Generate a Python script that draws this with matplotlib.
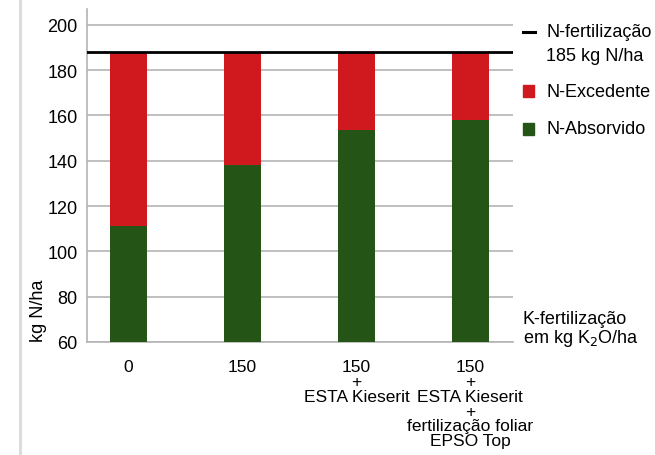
import matplotlib.pyplot as plt
from matplotlib.lines import Line2D

plt.rcParams['font.family'] = ['Liberation Sans', 'DejaVu Sans']

# datos
categorias = ["0", "150", "150\n+\nESTA Kieserit",
              "150\n+\nESTA Kieserit\n+\nfertilização foliar\nEPSO Top"]
n_absorvido = [111, 138, 153.5, 158]
n_fertilizacao = 188
n_excedente = [n_fertilizacao - a for a in n_absorvido]

verde = "#245516"
rojo = "#D0191E"
gris = "#b4b4b4"
fs = 13

fig = plt.figure(figsize=(6.55, 4.56), dpi=100)
ax = fig.add_axes([0.133, 0.248, 0.650, 0.730])

# linea gris del borde de página
fig.add_artist(Line2D([0.031, 0.031], [0, 1], color="#dcdcdc", lw=2.2))

x = list(range(len(categorias)))
ax.bar(x, n_absorvido, width=0.325, color=verde, bottom=0, zorder=3)
ax.bar(x, n_excedente, width=0.325, color=rojo, bottom=n_absorvido, zorder=3)
ax.axhline(n_fertilizacao, color="black", lw=2, zorder=4)

ax.set_ylim(60, 207)
ax.set_xlim(-0.364, 3.373)
ax.set_yticks(range(60, 201, 20))
ax.yaxis.grid(True, color=gris, lw=1.2, zorder=0)
ax.tick_params(axis="both", length=0, labelsize=fs)
ax.tick_params(axis="x", pad=12.5, labelsize=12.5)
ax.tick_params(axis="y", pad=7)
ax.set_xticks(x)
ax.set_xticklabels(categorias, linespacing=0.98)
for s in ["top", "right"]:
    ax.spines[s].set_visible(False)
for s in ["left", "bottom"]:
    ax.spines[s].set_color(gris)
    ax.spines[s].set_linewidth(1.2)
ax.set_ylabel("kg N/ha", fontsize=fs)
ax.yaxis.set_label_coords(-0.095, 0.095)

# leyenda a mano
fig.add_artist(Line2D([0.798, 0.817], [0.928, 0.928], color="black", lw=2.2))
fig.text(0.834, 0.928, "N-fertilização", fontsize=fs, va="center")
fig.text(0.834, 0.877, "185 kg N/ha", fontsize=fs, va="center")
fig.patches.append(plt.Rectangle((0.798, 0.785), 0.018, 0.026, color=rojo,
                                 transform=fig.transFigure, figure=fig))
fig.text(0.834, 0.798, "N-Excedente", fontsize=fs, va="center")
fig.patches.append(plt.Rectangle((0.798, 0.702), 0.018, 0.026, color=verde,
                                 transform=fig.transFigure, figure=fig))
fig.text(0.834, 0.715, "N-Absorvido", fontsize=fs, va="center")

fig.text(0.798, 0.300, "K-fertilização", fontsize=fs, va="center")
fig.text(0.798, 0.258, "em kg K$_2$O/ha", fontsize=fs, va="center")

fig.savefig("out.png", dpi=100)
